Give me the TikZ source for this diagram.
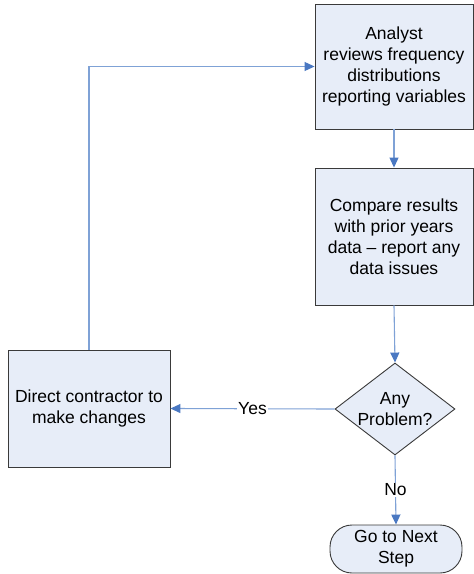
\documentclass[tikz,border=0pt]{standalone}
\usepackage{fontspec}
\setmainfont{Liberation Sans}
\usetikzlibrary{shapes.geometric,arrows.meta}
\definecolor{boxfill}{HTML}{E7EDF8}
\definecolor{boxline}{HTML}{3A3A3A}
\definecolor{flowline}{HTML}{7FA2D6}
\definecolor{flowhead}{HTML}{4A78C2}
\tikzset{
  x=1pt, y=1pt,
  base/.style={draw=boxline, fill=boxfill, line width=0.9pt, inner sep=0pt,
    align=center, font=\fontsize{17.5}{21}\selectfont},
  procbox/.style={base, rectangle, minimum width=#1},
  decision/.style={base, diamond, aspect=1.3, minimum width=120pt, minimum height=92pt},
  terminal/.style={base, rectangle, rounded corners=22pt, minimum width=132pt, minimum height=48pt},
  flow/.style={draw=flowline, line width=1.1pt,
    -{Triangle[width=9pt,length=10pt,color=flowhead,fill=flowhead]}},
  tag/.style={fill=white, inner sep=1pt, font=\fontsize{17.5}{21}\selectfont}
}
\begin{document}
\begin{tikzpicture}
\useasboundingbox (0,0) rectangle (474,-574);

\node[procbox=158pt, minimum height=125pt] (review) at (394,-66.5)
  {Analyst\\reviews frequency\\distributions\\reporting variables};
\node[procbox=158pt, minimum height=137pt] (compare) at (394,-236.5)
  {Compare results\\with prior years\\data -- report any\\data issues};
\node[decision] (problem) at (395,-409) {Any\\Problem?};
\node[procbox=162pt, minimum height=117pt] (direct) at (89,-408.5)
  {Direct contractor to\\make changes};
\node[terminal] (next) at (396,-549) {Go to Next\\Step};

\draw[flow] (review.south -| compare.north) -- (compare.north);
\draw[flow] (compare.south) -- (problem.north);
\draw[flow] (problem.west) -- node[tag] {Yes} (direct.east);
\draw[flow] (problem.south) -- node[tag] {No} (next.north);
\draw[flow] (direct.north) |- (review.west);
\end{tikzpicture}
\end{document}
